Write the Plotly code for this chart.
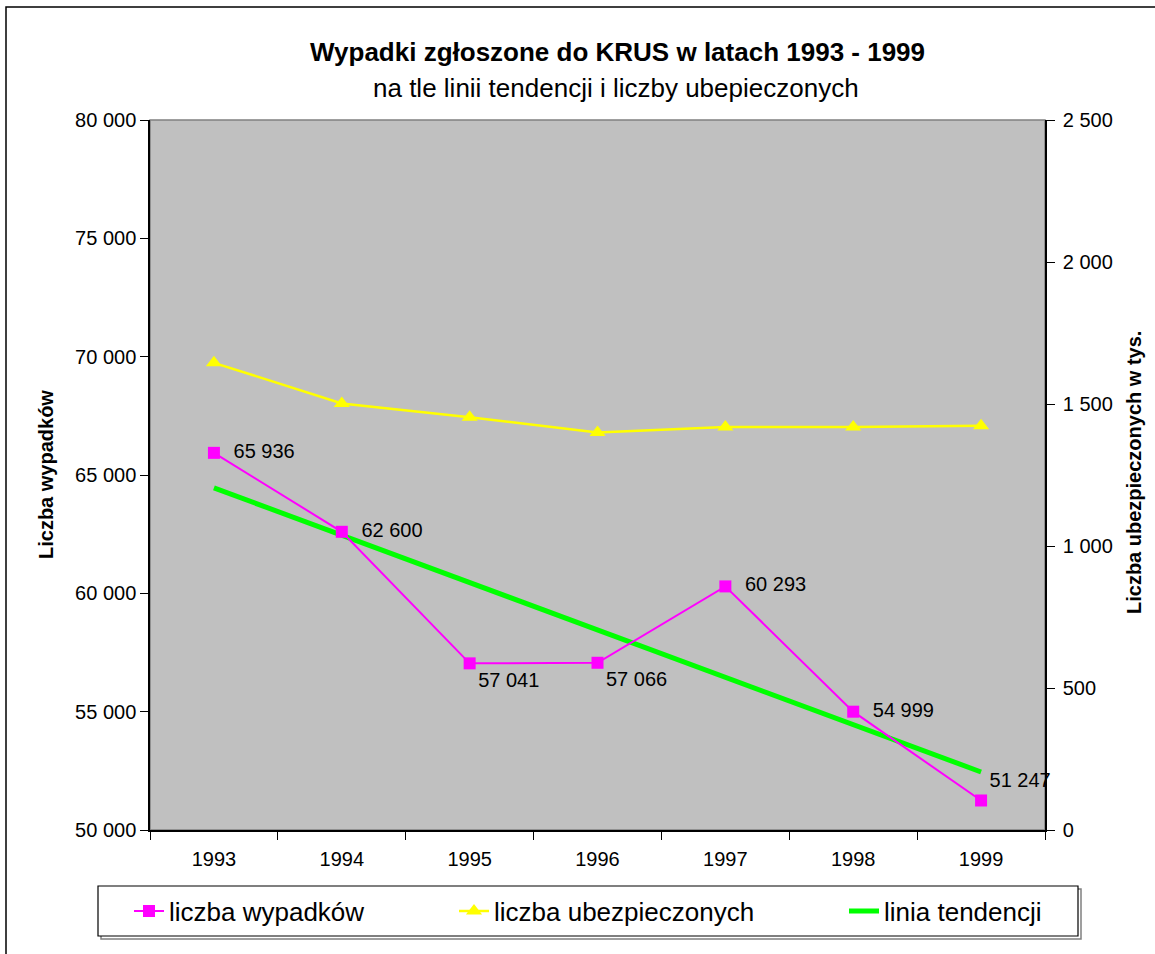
import plotly.graph_objs as go

# dane
lata = ['1993', '1994', '1995', '1996', '1997', '1998', '1999']
wypadki = [65936, 62600, 57041, 57066, 60293, 54999, 51247]
ubezpieczeni = [1645, 1502, 1453, 1400, 1419, 1419, 1423]  # w tys.
tendencja = [64456, 62455, 60455, 58455, 56454, 54453, 52452]

pozycje_etykiet = ['middle right', 'middle right', 'bottom right', 'bottom right',
                   'middle right', 'middle right', 'top right']
wciecia = ['  ', '  ', '', '', '  ', '  ', '']

FONT = 'Arial, Liberation Sans, sans-serif'


# px -> paper (plot area: x 150..1045, y 120..830)
def px(x):
    return (x - 150) / 895.0


def py(y):
    return (830 - y) / 710.0


etykiety = [w + '{:,}'.format(v).replace(',', ' ') for w, v in zip(wciecia, wypadki)]

trace_wyp = go.Scatter(
    x=lata, y=wypadki,
    mode='lines+markers+text',
    name='liczba wypadków',
    line=dict(color='#FF00FF', width=2),
    marker=dict(symbol='square', size=12, color='#FF00FF'),
    text=etykiety,
    textposition=pozycje_etykiet,
    textfont=dict(family=FONT, size=20, color='black'),
    cliponaxis=False,
    hoverinfo='x+y',
    legend='legend',
)

trace_ubezp = go.Scatter(
    x=lata, y=ubezpieczeni,
    mode='lines+markers',
    name='liczba ubezpieczonych',
    yaxis='y2',
    line=dict(color='#FFFF00', width=2.5),
    marker=dict(symbol='triangle-up', size=14, color='#FFFF00'),
    legend='legend2',
)

trace_tend = go.Scatter(
    x=lata, y=tendencja,
    mode='lines',
    name='linia tendencji',
    line=dict(color='#00FF00', width=5),
    legend='legend3',
)

leg = dict(orientation='h', yanchor='middle', y=py(911), xanchor='left',
           bgcolor='rgba(0,0,0,0)', font=dict(family=FONT, size=26, color='black'))

osie = dict(ticks='outside', ticklen=8, tickcolor='black',
            showline=True, linecolor='black', linewidth=1.5,
            showgrid=False, zeroline=False, tickfont=dict(size=20))

layout = go.Layout(
    width=1155, height=954,
    margin=dict(l=150, r=110, t=120, b=124),
    paper_bgcolor='white',
    plot_bgcolor='#C0C0C0',
    separators=', ',
    font=dict(family=FONT, size=20, color='black'),
    showlegend=True,
    legend=dict(leg, x=px(129)),
    legend2=dict(leg, x=px(454)),
    legend3=dict(leg, x=px(844)),
    xaxis=dict(osie, type='category', tickson='boundaries',
               range=[-0.5, 6.5], ticklabelstandoff=10),
    yaxis=dict(osie, range=[50000, 80000], dtick=5000, tickformat=',d'),
    yaxis2=dict(osie, range=[0, 2500], dtick=500, tickformat=',d',
                overlaying='y', side='right', ticklabelstandoff=4),
    annotations=[
        dict(text='<b>Wypadki zgłoszone do KRUS w latach 1993 - 1999</b>',
             xref='paper', yref='paper', x=px(617), y=py(52),
             xanchor='center', yanchor='middle', showarrow=False,
             font=dict(size=26)),
        dict(text='na tle linii tendencji i liczby ubepieczonych',
             xref='paper', yref='paper', x=px(616), y=py(88),
             xanchor='center', yanchor='middle', showarrow=False,
             font=dict(size=26)),
        dict(text='<b>Liczba wypadków</b>', textangle=-90,
             xref='paper', yref='paper', x=px(46), y=py(475),
             xanchor='center', yanchor='middle', showarrow=False,
             font=dict(size=20)),
        dict(text='<b>Liczba ubezpieczonych w tys.</b>', textangle=-90,
             xref='paper', yref='paper', x=px(1134), y=py(473),
             xanchor='center', yanchor='middle', showarrow=False,
             font=dict(size=20)),
    ],
    shapes=[
        # ramka wykresu
        dict(type='rect', xref='paper', yref='paper', layer='below',
             x0=px(6), x1=px(1175), y0=py(975), y1=py(7),
             line=dict(color='black', width=1.5)),
        # ramka obszaru kreślenia
        dict(type='rect', xref='paper', yref='paper', layer='below',
             x0=0, x1=1, y0=0, y1=1, line=dict(color='#808080', width=1.5)),
        # cień legendy
        dict(type='rect', xref='paper', yref='paper', layer='below',
             x0=px(101), x1=px(1081), y0=py(939), y1=py(889),
             line=dict(color='#808080', width=1.5)),
        # ramka legendy
        dict(type='rect', xref='paper', yref='paper', layer='below',
             x0=px(98), x1=px(1078), y0=py(936), y1=py(886),
             fillcolor='white', line=dict(color='black', width=1.2)),
    ],
)

fig = go.Figure(data=[trace_ubezp, trace_tend, trace_wyp], layout=layout)
fig.write_html('out.html', config=dict(displayModeBar=False),
               post_script="document.body.style.margin='0px';")
